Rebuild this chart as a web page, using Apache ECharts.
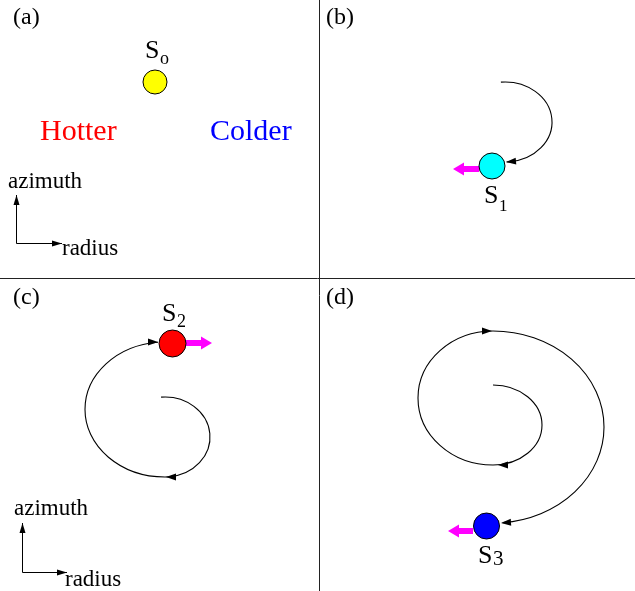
<!DOCTYPE html>
<html>
<head>
<meta charset="utf-8">
<title>star orbits</title>
<script src="https://cdn.jsdelivr.net/npm/echarts@6/dist/echarts.min.js"></script>
<style>
  html, body { margin: 0; padding: 0; background: #fff; }
  #main { width: 635px; height: 591px; }
</style>
</head>
<body>
<div id="main"></div>
<script>
// drawing units = pixels of the original figure (y grows downwards)
var dividers = [[319.5, 0, 319.5, 591], [0, 278.5, 635, 278.5]];
// azimuth / radius indicators: tail x, tail y, tip x, tip y
var axisArrows = [[16.5, 243.5, 16.5, 195], [16.5, 243.5, 62, 243.5], [22.5, 572.5, 22.5, 523], [22.5, 572.5, 67, 572.5]];
// orbit pieces: cx, cy, rx, ry, start angle, end angle (deg, clockwise on screen)
var orbitArcs = [
  [505, 122, 47, 40, -95, 88],
  [165, 437, 45, 40, -95, 90],
  [165, 409.5, 80, 67.5, 90, 265],
  [493, 425, 49, 40, -90, 90],
  [493, 398, 75, 67, 90, 270],
  [493, 427, 111, 96, -90, 85]
];
// arrow heads on the orbits: tip x, tip y, direction (deg)
var orbitHeads = [[506, 162, 175], [166, 477, 180], [158, 342, 0], [498, 465, 180], [492, 331, 0], [501, 523, 176]];
// magenta kicks: tail x, tail y, tip x, tip y
var kicks = [[479, 169, 453, 169], [186, 343, 212, 343], [473, 531, 448, 531]];
// stars
var starPos = [[155, 82], [492, 166], [172.5, 343.5], [486.5, 526]];
var starColors = ['#ffff00', '#00ffff', '#ff0000', '#0000ff'];
var starSizes = [24, 26, 27, 26];
// texts: text, x, baseline, font size, colour
var texts = [
  ['(a)', 13, 26, 24, '#000'], ['(b)', 326, 26, 24, '#000'],
  ['(c)', 13, 306, 24, '#000'], ['(d)', 326, 306, 24, '#000'],
  ['S', 145, 60, 26, '#000'], ['o', 160, 65, 18, '#000'],
  ['Hotter', 40, 142, 30, '#ff0000'], ['Colder', 210, 142, 30, '#0000ff'],
  ['azimuth', 8, 190, 23, '#000'], ['radius', 62, 257, 23, '#000'],
  ['S', 484, 205, 26, '#000'], ['1', 499, 212, 17, '#000'],
  ['S', 162, 323, 26, '#000'], ['2', 177, 328, 18, '#000'],
  ['azimuth', 14, 517, 23, '#000'], ['radius', 65, 588, 23, '#000'],
  ['S', 478, 565, 26, '#000'], ['3', 493, 567, 21, '#000']
];

function headShape(tip, ang, len, half) {
  var dx = Math.cos(ang), dy = Math.sin(ang);
  var bx = tip[0] - dx * len, by = tip[1] - dy * len;
  return [tip, [bx - dy * half, by + dx * half], [bx + dy * half, by - dx * half]];
}

function renderSegment(params, api) {
  var a = api.coord([api.value(0), api.value(1)]);
  var b = api.coord([api.value(2), api.value(3)]);
  return {
    type: 'line',
    shape: { x1: a[0], y1: a[1], x2: b[0], y2: b[1] },
    style: { stroke: '#222', lineWidth: 1 }
  };
}

function renderAxisArrow(params, api) {
  var a = api.coord([api.value(0), api.value(1)]);
  var b = api.coord([api.value(2), api.value(3)]);
  var ang = Math.atan2(b[1] - a[1], b[0] - a[0]);
  return {
    type: 'group',
    children: [
      { type: 'line', shape: { x1: a[0], y1: a[1], x2: b[0], y2: b[1] }, style: { stroke: '#000', lineWidth: 1 } },
      { type: 'polygon', shape: { points: headShape(b, ang, 10, 3) }, style: { fill: '#000' } }
    ]
  };
}

function renderArc(params, api) {
  var c = api.coord([api.value(0), api.value(1)]);
  var rx = api.size([api.value(2), 0])[0];
  var ry = api.size([0, api.value(3)])[1];
  var s = api.value(4) * Math.PI / 180, e = api.value(5) * Math.PI / 180;
  var x0 = c[0] + rx * Math.cos(s), y0 = c[1] + ry * Math.sin(s);
  var x1 = c[0] + rx * Math.cos(e), y1 = c[1] + ry * Math.sin(e);
  var large = (api.value(5) - api.value(4)) > 180 ? 1 : 0;
  return {
    type: 'path',
    shape: { pathData: 'M' + x0 + ' ' + y0 + ' A' + rx + ' ' + ry + ' 0 ' + large + ' 1 ' + x1 + ' ' + y1 },
    style: { fill: null, stroke: '#000', lineWidth: 1.1 }
  };
}

function renderOrbitHead(params, api) {
  var tip = api.coord([api.value(0), api.value(1)]);
  return {
    type: 'polygon',
    shape: { points: headShape(tip, api.value(2) * Math.PI / 180, 10, 3.5) },
    style: { fill: '#000' }
  };
}

function renderKick(params, api) {
  var a = api.coord([api.value(0), api.value(1)]);
  var b = api.coord([api.value(2), api.value(3)]);
  var ang = Math.atan2(b[1] - a[1], b[0] - a[0]);
  var len = 11;
  var m = [b[0] - Math.cos(ang) * len, b[1] - Math.sin(ang) * len];
  return {
    type: 'group',
    children: [
      { type: 'line', shape: { x1: a[0], y1: a[1], x2: m[0] + Math.cos(ang), y2: m[1] + Math.sin(ang) }, style: { stroke: '#ff00ff', lineWidth: 6 } },
      { type: 'polygon', shape: { points: headShape(b, ang, len, 6.5) }, style: { fill: '#ff00ff' } }
    ]
  };
}

var chart = echarts.init(document.getElementById('main'));
chart.setOption({
  animation: false,
  backgroundColor: '#fff',
  grid: { left: 0, right: 0, top: 0, bottom: 0 },
  xAxis: { type: 'value', min: 0, max: 635, show: false },
  yAxis: { type: 'value', min: 0, max: 591, inverse: true, show: false },
  graphic: texts.map(function (t) {
    return {
      type: 'text',
      x: t[1],
      y: t[2] - 0.34 * t[3],
      style: { text: t[0], font: t[3] + 'px "Liberation Serif"', fill: t[4], verticalAlign: 'middle', align: 'left' }
    };
  }),
  series: [
    { type: 'custom', renderItem: renderSegment, data: dividers },
    { type: 'custom', renderItem: renderAxisArrow, data: axisArrows },
    { type: 'custom', renderItem: renderArc, data: orbitArcs },
    { type: 'custom', renderItem: renderOrbitHead, data: orbitHeads },
    { type: 'custom', renderItem: renderKick, data: kicks, z: 3 },
    {
      type: 'scatter',
      z: 4,
      data: starPos.map(function (p, i) {
        return { value: p, symbolSize: starSizes[i], itemStyle: { color: starColors[i] } };
      }),
      itemStyle: { borderColor: '#000', borderWidth: 1, opacity: 1 }
    }
  ]
});
</script>
</body>
</html>
